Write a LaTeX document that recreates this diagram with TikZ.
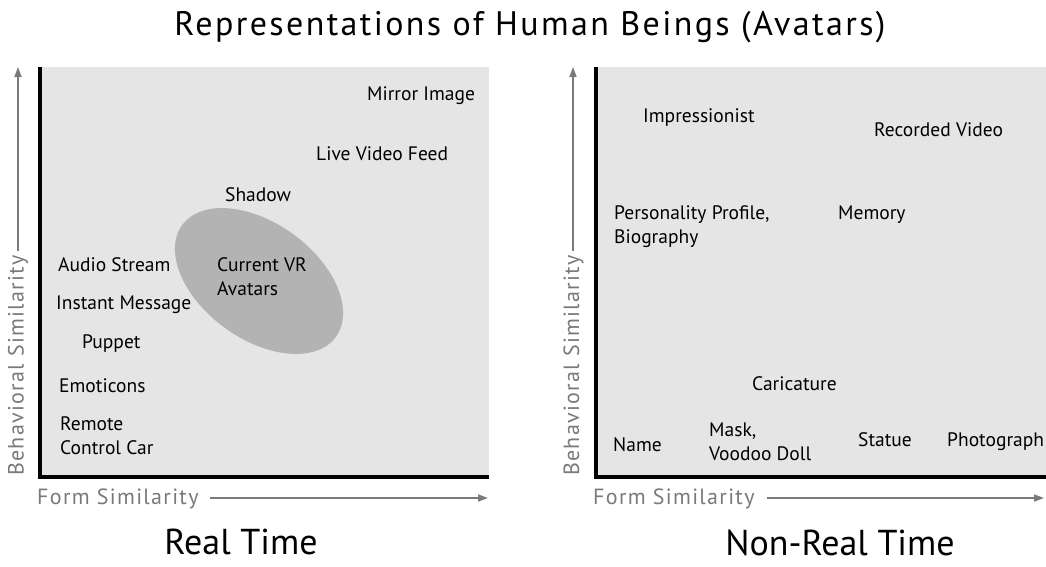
\documentclass[tikz,border=0pt]{standalone}
\usepackage{fontspec}
\setmainfont{PT Sans}
\usetikzlibrary{arrows.meta}
\definecolor{panelgray}{HTML}{E5E5E5}
\definecolor{blobgray}{HTML}{B3B3B3}
\definecolor{axgray}{HTML}{7A7A7A}
\begin{document}
\begin{tikzpicture}[x=1pt,y=-1pt,
  lbl/.style={anchor=base west,inner sep=0pt,font=\fontsize{19.5}{24}\selectfont,align=left},
  axlbl/.style={inner sep=0pt,font=\fontsize{22}{24}\selectfont\addfontfeature{LetterSpace=6},text=axgray},
  axarrow/.style={draw=axgray,line width=1.6pt,-{Triangle[length=10pt,width=7pt]}},
  axline/.style={line width=4pt,black},
  panel/.style={fill=panelgray,draw=none},
  blob/.style={fill=blobgray,draw=none},
  bigtitle/.style={anchor=base,inner sep=0pt,font=\fontsize{34}{38}\selectfont\addfontfeature{LetterSpace=7}},
  subtitle/.style={anchor=base,inner sep=0pt,font=\fontsize{36}{40}\selectfont}]
\useasboundingbox[fill=white] (0,0) rectangle (1046,566);

% title
\node[bigtitle] (title) at (530,35) {Representations of Human Beings (Avatars)};

% ---------- left panel ----------
\fill[panel] (40,67) rectangle (489,477);
\fill[blob, rotate around={-36:(259,281)}] (259,281) ellipse [x radius=95, y radius=58];
\coordinate (LT) at (39.5,67);
\coordinate (LO) at (39.5,477);
\coordinate (LR) at (489,477);
\draw[axline] (LT) -- (LO) -- (LR);

\node[axlbl, rotate=90, anchor=base west] (LyL) at (23.5,476) {Behavioral Similarity};
\coordinate (LyS) at (18,251);
\coordinate (LyE) at (18,67);
\draw[axarrow] (LyS) -- (LyE);
\node[axlbl, anchor=base west] (LxL) at (37,504) {Form Similarity};
\coordinate (LxS) at (210,498);
\coordinate (LxE) at (488,498);
\draw[axarrow] (LxS) -- (LxE);

\node[lbl] (mirror) at (367,100) {Mirror Image};
\node[lbl] (live) at (316,160.5) {Live Video Feed};
\node[lbl] (shadow) at (225,201) {Shadow};
\node[lbl] (audio) at (58,271.5) {Audio Stream};
\node[lbl] (vr) at (217,295) {Current VR\\Avatars};
\node[lbl] (im) at (56,309) {Instant Message};
\node[lbl] (puppet) at (82,348) {Puppet};
\node[lbl] (emo) at (59,392) {Emoticons};
\node[lbl] (rcc) at (60,454) {Remote\\Control Car};

\node[subtitle] (rt) at (241,554) {Real Time};

% ---------- right panel ----------
\fill[panel] (597,67) rectangle (1046,477);
\coordinate (RT) at (595.5,67);
\coordinate (RO) at (595.5,477);
\coordinate (RR) at (1046,477);
\draw[axline] (RT) -- (RO) -- (RR);

\node[axlbl, rotate=90, anchor=base west] (RyL) at (579,476) {Behavioral Similarity};
\coordinate (RyS) at (573,251);
\coordinate (RyE) at (573,67);
\draw[axarrow] (RyS) -- (RyE);
\node[axlbl, anchor=base west] (RxL) at (593,504) {Form Similarity};
\coordinate (RxS) at (767,498);
\coordinate (RxE) at (1044,498);
\draw[axarrow] (RxS) -- (RxE);

\node[lbl] (impr) at (643,122) {Impressionist};
\node[lbl] (recv) at (874,136) {Recorded Video};
\node[lbl] (pers) at (614,243) {Personality Profile,\\Biography};
\node[lbl] (memory) at (838,219) {Memory};
\node[lbl] (cari) at (752,390) {Caricature};
\node[lbl] (name) at (613,451) {Name};
\node[lbl] (mask) at (709,460) {Mask,\\Voodoo Doll};
\node[lbl] (statue) at (858,446) {Statue};
\node[lbl] (photo) at (947,446) {Photograph};

\node[subtitle] (nrt) at (840,555) {Non-Real Time};
\end{tikzpicture}
\end{document}
